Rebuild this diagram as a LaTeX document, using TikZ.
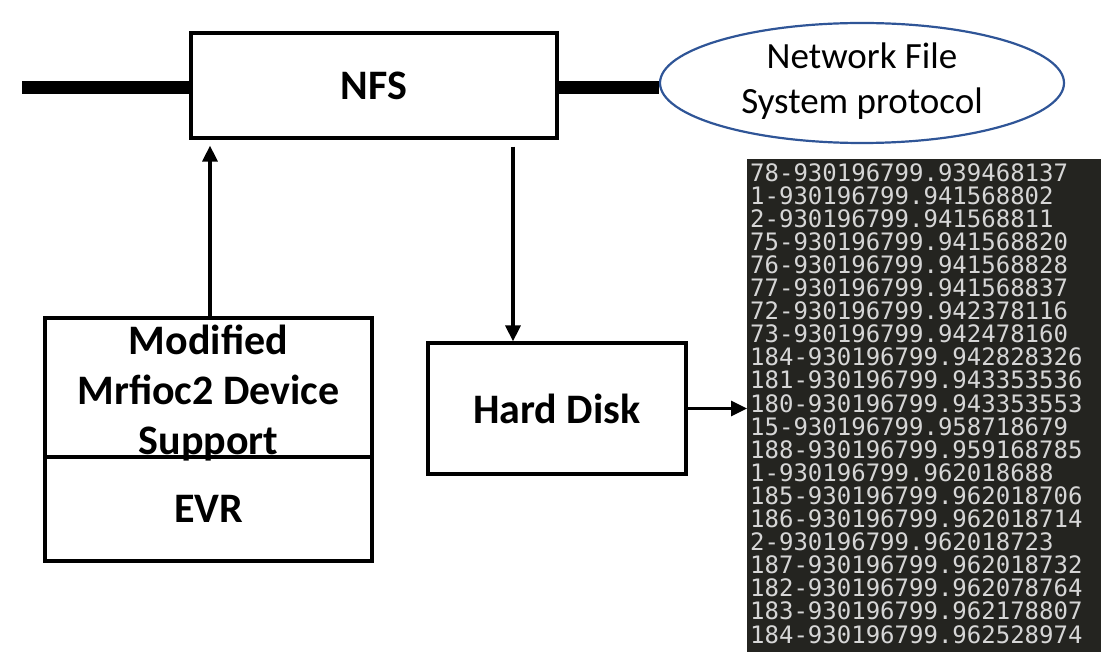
\documentclass[tikz,border=0pt]{standalone}
\usepackage{fontspec}
\setmainfont{Carlito}
\newfontfamily\termfont{DejaVu Sans Mono}
\usetikzlibrary{arrows.meta,shapes.geometric,calc}
\definecolor{ellblue}{RGB}{47,85,151}
\definecolor{termbg}{RGB}{36,36,32}
\definecolor{termfg}{RGB}{214,214,214}
\tikzset{
  blk/.style={draw=black, line width=3.2pt, rectangle, inner sep=0pt},
  lbl/.style={font=\bfseries\fontsize{42}{50}\selectfont, align=center, inner sep=0pt},
  arr/.style={line width=3.2pt, -{Triangle[length=16pt,width=15pt]}},
  bus/.style={line width=13pt, line cap=butt}
}
\begin{document}
\begin{tikzpicture}[x=1pt,y=-1pt]
\useasboundingbox (0,0) rectangle (1101,652);
% boxes
\node[blk, minimum width=366pt, minimum height=105pt, lbl] (nfs) at (374,85.5) {NFS};
\node[blk, minimum width=327pt, minimum height=139pt] (mod) at (208.5,387.5) {};
\node[lbl] (modtxt) at (208.5,392.7) {Modified\\Mrfioc2 Device\\Support};
\node[blk, minimum width=327pt, minimum height=104pt, lbl] (evr) at (208.5,509) {EVR};
\node[blk, minimum width=258pt, minimum height=131pt, lbl] (hd) at (557,408.5) {Hard Disk};
\node[ellipse, draw=ellblue, line width=2.2pt, minimum width=404pt, minimum height=120pt, inner sep=0pt] (nfsp) at (862,83) {};
\node[font=\fontsize{37}{45}\selectfont, align=center, inner sep=0pt] (nfsptxt) at (862,81) {Network File\\System protocol};
% terminal
\node[rectangle, fill=termbg, inner sep=0pt, anchor=north west, minimum width=354pt, minimum height=493pt] (term) at (747,159) {};
\node[anchor=north west, inner sep=0pt, text=termfg, align=left, font=\termfont\fontsize{24}{23.1}\selectfont] (termtxt) at (750,163) {%
78-930196799.939468137\\
1-930196799.941568802\\
2-930196799.941568811\\
75-930196799.941568820\\
76-930196799.941568828\\
77-930196799.941568837\\
72-930196799.942378116\\
73-930196799.942478160\\
184-930196799.942828326\\
181-930196799.943353536\\
180-930196799.943353553\\
15-930196799.958718679\\
188-930196799.959168785\\
1-930196799.962018688\\
185-930196799.962018706\\
186-930196799.962018714\\
2-930196799.962018723\\
187-930196799.962018732\\
182-930196799.962078764\\
183-930196799.962178807\\
184-930196799.962528974};
% bus lines
\coordinate (busend) at (22,87.5);
\draw[bus] (busend) -- (busend -| nfs.west);
\draw[bus] (nfs.east |- busend) -- (nfsp.west |- busend);
% arrows
\draw[arr, shorten >=6pt] ([xshift=1.5pt]mod.north) -- ([xshift=1.5pt]mod.north |- nfs.south);
\draw[arr, shorten <=7pt] ([xshift=-44pt]hd.north |- nfs.south) -- ([xshift=-44pt]hd.north);
\draw[arr] (hd.east) -- (term.west |- hd.east);
\end{tikzpicture}
\end{document}
